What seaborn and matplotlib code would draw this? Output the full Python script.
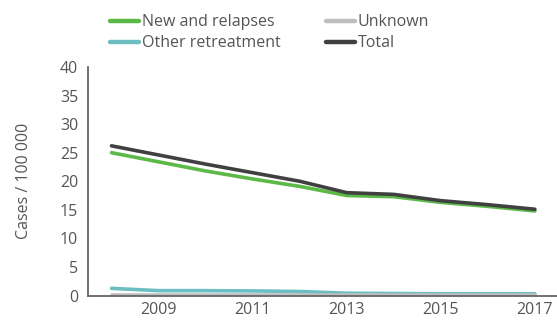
import pandas as pd
import seaborn as sns
import matplotlib.pyplot as plt
from matplotlib.ticker import MultipleLocator

years = [2008, 2009, 2010, 2011, 2012, 2013, 2014, 2015, 2016, 2017]
new_relapses = [25.0, 23.4, 21.8, 20.4, 19.1, 17.5, 17.3, 16.3, 15.6, 14.8]
other_retreatment = [1.25, 0.85, 0.85, 0.8, 0.7, 0.4, 0.35, 0.3, 0.3, 0.3]
unknown = [0.05, 0.05, 0.05, 0.05, 0.05, 0.05, 0.05, 0.05, 0.05, 0.05]
total = [26.2, 24.6, 23.0, 21.5, 20.0, 18.0, 17.7, 16.6, 15.9, 15.1]

series_names = ["New and relapses", "Other retreatment", "Unknown", "Total"]
colors = ["#5cb947", "#6cbec2", "#bcbec0", "#404041"]

df = pd.DataFrame({
    "year": years * 4,
    "value": new_relapses + other_retreatment + unknown + total,
    "series": [s for s in series_names for _ in years],
})

sns.set_style("white")
plt.rcParams["font.family"] = ["Open Sans", "DejaVu Sans"]
text_col = "#555555"

fig = plt.figure(figsize=(5.57, 3.22), dpi=100)
ax = fig.add_axes([88 / 557, 1 - 295.5 / 322, 1 - 88 / 557, (295.5 - 67) / 322])

sns.lineplot(data=df, x="year", y="value", hue="series", hue_order=series_names,
             palette=colors, linewidth=2.6, ax=ax, legend=False)

ax.set_xlim(2007.5, 2017.47)
ax.set_ylim(0, 40)
ax.yaxis.set_major_locator(MultipleLocator(5))
ax.set_xticks([2009, 2011, 2013, 2015, 2017])
ax.set_xticks([y + 0.5 for y in years[:-1]], minor=True)
ax.tick_params(axis="x", which="major", length=0, labelsize=11.5, labelcolor=text_col, pad=5)
ax.tick_params(axis="x", which="minor", direction="in", length=3, width=1, color="#666666")
ax.tick_params(axis="y", which="major", direction="in", length=8, width=1.3, color="#666666",
               labelsize=11.5, labelcolor=text_col, pad=7)

for side in ["top", "right"]:
    ax.spines[side].set_visible(False)
for side in ["left", "bottom"]:
    ax.spines[side].set_color("#666666")
    ax.spines[side].set_linewidth(1.3)

ax.set_xlabel("")
ax.set_ylabel("Cases / 100 000", fontsize=11.5, color=text_col, labelpad=20)

handles = [plt.Line2D([], [], color=c, linewidth=3.2, solid_capstyle="round") for c in colors]
fig.legend(handles, series_names, loc="upper left", bbox_to_anchor=(96 / 557, 1.0),
           ncol=2, frameon=False, fontsize=11.5, handlelength=1.8, handletextpad=0.2,
           columnspacing=2.8, labelspacing=0.3, labelcolor=text_col)

fig.savefig("out.png", dpi=100)
